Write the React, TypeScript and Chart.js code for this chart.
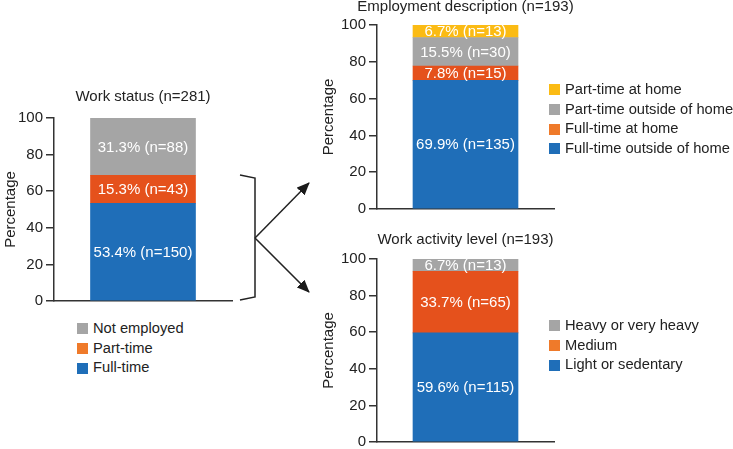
import React, { useEffect, useRef } from "react";
import { Chart, registerables } from "chart.js";

Chart.register(...registerables);

const FONT = '"Liberation Sans", Arial, Helvetica, sans-serif';

// ---- Data ----
const workCategories = ["Full-time", "Part-time", "Not employed"];
const workPercents = [53.4, 15.3, 31.3];
const workCounts = [150, 43, 88];

const employmentCategories = [
  "Full-time outside of home",
  "Full-time at home",
  "Part-time outside of home",
  "Part-time at home",
];
const employmentPercents = [69.9, 7.8, 15.5, 6.7];
const employmentCounts = [135, 15, 30, 13];

const activityCategories = ["Light or sedentary", "Medium", "Heavy or very heavy"];
const activityPercents = [59.6, 33.7, 6.7];
const activityCounts = [115, 65, 13];

const yTickValues = [0, 20, 40, 60, 80, 100];

// ---- Styles ----
const BLUE = "#1f6eb8";
const ORANGE = "#e5511c";
const GRAY = "#a5a5a5";
const YELLOW = "#fbbb14";
const LEGEND_ORANGE = "#ef7a2a";
const INK = "#222222";
const AXIS = "#333333";

type Spec = {
  title: string;
  categories: string[];
  percents: number[];
  counts: number[];
  colors: string[];
  left: number;
  top: number;
  width: number;
  height: number;
  padLeft: number;
  axisWidth: number;
  padRight: number;
  padTop: number;
  padBottom: number;
  titleOffset: number;
};

function StackedBar({ spec }: { spec: Spec }) {
  const ref = useRef<HTMLCanvasElement | null>(null);
  useEffect(() => {
    const canvas = ref.current;
    if (!canvas) return;
    const labelPlugin = {
      id: "segLabels",
      afterDatasetsDraw(chart: any) {
        const ctx = chart.ctx;
        ctx.save();
        ctx.font = `15px ${FONT}`;
        ctx.fillStyle = "#ffffff";
        ctx.textAlign = "center";
        ctx.textBaseline = "middle";
        chart.data.datasets.forEach((ds: any, i: number) => {
          const meta = chart.getDatasetMeta(i);
          const bar: any = meta.data[0];
          if (!bar) return;
          const cy = (bar.y + bar.base) / 2;
          ctx.fillText(`${ds.data[0].toFixed(1)}% (n=${ds.count})`, bar.x, cy + 1);
        });
        ctx.restore();
      },
    };
    const titlePlugin = {
      id: "topTitle",
      afterDraw(chart: any) {
        const ctx = chart.ctx;
        const a = chart.chartArea;
        ctx.save();
        ctx.font = `15px ${FONT}`;
        ctx.fillStyle = INK;
        ctx.textAlign = "center";
        ctx.textBaseline = "middle";
        ctx.fillText(spec.title, (a.left + a.right) / 2, a.top - spec.titleOffset);
        ctx.restore();
      },
    };
    const chart = new Chart(canvas, {
      type: "bar",
      data: {
        labels: [""],
        datasets: spec.categories.map((c, i) => ({
          label: c,
          data: [spec.percents[i]],
          count: spec.counts[i],
          backgroundColor: spec.colors[i],
          borderWidth: 0,
          barThickness: 105,
        })) as any,
      },
      options: {
        animation: false,
        responsive: false,
        maintainAspectRatio: false,
        layout: {
          padding: {
            left: spec.padLeft,
            right: spec.padRight,
            top: spec.padTop,
            bottom: spec.padBottom,
          },
        },
        plugins: {
          legend: { display: false },
          tooltip: { enabled: false },
          title: { display: false },
        },
        scales: {
          x: {
            stacked: true,
            grid: { display: false },
            ticks: { display: false },
            border: { display: true, color: AXIS, width: 1.5 },
            afterFit: (s: any) => {
              s.height = 0;
            },
          },
          y: {
            stacked: true,
            min: 0,
            max: 100,
            afterBuildTicks: (s: any) => {
              s.ticks = yTickValues.map((v) => ({ value: v }));
            },
            ticks: {
              font: { family: FONT, size: 15 },
              color: INK,
              padding: 3,
            },
            grid: {
              drawOnChartArea: false,
              drawTicks: true,
              tickLength: 8,
              color: AXIS,
              lineWidth: 1.5,
            },
            border: { display: true, color: AXIS, width: 1.5 },
            title: {
              display: true,
              text: "Percentage",
              font: { family: FONT, size: 15 },
              color: INK,
              padding: { top: 2, bottom: 0 },
            },
            afterFit: (s: any) => {
              s.width = spec.axisWidth;
            },
          },
        },
      } as any,
      plugins: [labelPlugin, titlePlugin],
    });
    return () => chart.destroy();
  }, [spec]);
  return (
    <canvas
      ref={ref}
      width={spec.width}
      height={spec.height}
      style={{
        position: "absolute",
        left: spec.left,
        top: spec.top,
        width: spec.width,
        height: spec.height,
      }}
    />
  );
}

function Legend({
  items,
  colors,
  left,
  top,
}: {
  items: string[];
  colors: string[];
  left: number;
  top: number;
}) {
  return (
    <div
      style={{
        position: "absolute",
        left,
        top,
        fontFamily: FONT,
        fontSize: 14.7,
        color: INK,
        lineHeight: "19.7px",
        whiteSpace: "nowrap",
      }}
    >
      {items.map((t, i) => (
        <div key={t} style={{ display: "flex", alignItems: "center", height: 19.7 }}>
          <span
            style={{
              display: "inline-block",
              width: 11,
              height: 11,
              background: colors[i],
              marginRight: 5,
            }}
          />
          <span>{t}</span>
        </div>
      ))}
    </div>
  );
}

const workSpec: Spec = {
  title: "Work status (n=281)",
  categories: workCategories,
  percents: workPercents,
  counts: workCounts,
  colors: [BLUE, ORANGE, GRAY],
  left: 0,
  top: 80,
  width: 260,
  height: 234,
  padLeft: 0,
  axisWidth: 54,
  padRight: 28,
  padTop: 38,
  padBottom: 13,
  titleOffset: 21,
};

const employmentSpec: Spec = {
  title: "Employment description (n=193)",
  categories: employmentCategories,
  percents: employmentPercents,
  counts: employmentCounts,
  colors: [BLUE, ORANGE, GRAY, YELLOW],
  left: 300,
  top: 0,
  width: 433,
  height: 222,
  padLeft: 18,
  axisWidth: 59,
  padRight: 179,
  padTop: 25,
  padBottom: 13,
  titleOffset: 18,
};

const activitySpec: Spec = {
  title: "Work activity level (n=193)",
  categories: activityCategories,
  percents: activityPercents,
  counts: activityCounts,
  colors: [BLUE, ORANGE, GRAY],
  left: 300,
  top: 225,
  width: 433,
  height: 230,
  padLeft: 18,
  axisWidth: 59,
  padRight: 179,
  padTop: 34,
  padBottom: 13,
  titleOffset: 19,
};

export default function App() {
  return (
    <div
      style={{
        position: "absolute",
        left: 0,
        top: 0,
        width: 733,
        height: 449,
        overflow: "hidden",
        background: "#ffffff",
      }}
    >
      <StackedBar spec={workSpec} />
      <StackedBar spec={employmentSpec} />
      <StackedBar spec={activitySpec} />
      <Legend
        items={[...workCategories].reverse()}
        colors={[GRAY, LEGEND_ORANGE, BLUE]}
        left={77}
        top={319}
      />
      <Legend
        items={[...employmentCategories].reverse()}
        colors={[YELLOW, GRAY, LEGEND_ORANGE, BLUE]}
        left={549}
        top={80}
      />
      <Legend
        items={[...activityCategories].reverse()}
        colors={[GRAY, LEGEND_ORANGE, BLUE]}
        left={549}
        top={316}
      />
      <svg
        width={733}
        height={449}
        style={{ position: "absolute", left: 0, top: 0, pointerEvents: "none" }}
      >
        <defs>
          <marker
            id="ah"
            markerWidth="13"
            markerHeight="11"
            refX="12"
            refY="5.5"
            orient="auto"
            markerUnits="userSpaceOnUse"
          >
            <path d="M0,0 L13,5.5 L0,11 z" fill="#1a1a1a" />
          </marker>
        </defs>
        <polyline
          points="240,175 255,178 255,297 240,300"
          fill="none"
          stroke="#222"
          strokeWidth={1.5}
        />
        <line x1={255} y1={238} x2={309} y2={183} stroke="#222" strokeWidth={1.5} markerEnd="url(#ah)" />
        <line x1={255} y1={238} x2={309} y2={292} stroke="#222" strokeWidth={1.5} markerEnd="url(#ah)" />
      </svg>
    </div>
  );
}
